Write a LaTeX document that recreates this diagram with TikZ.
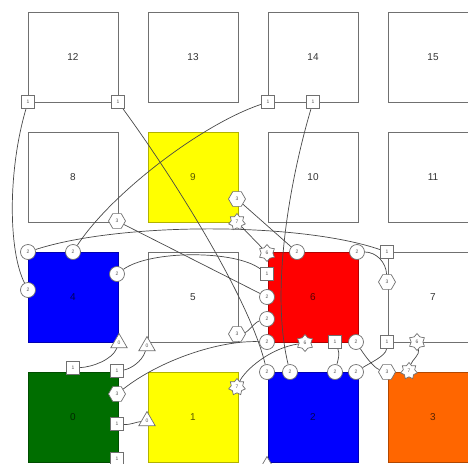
\documentclass[tikz,border=0pt]{standalone}
\usepackage{fontspec}
\setmainfont{Liberation Sans}
\usetikzlibrary{shapes.geometric}
\definecolor{bordergray}{HTML}{707070}
\definecolor{linegray}{HTML}{484848}
\definecolor{labgray}{HTML}{333333}
\definecolor{mtext}{HTML}{555555}
\definecolor{cyellow}{HTML}{FFFF00}
\definecolor{cblue}{HTML}{0000FF}
\definecolor{cred}{HTML}{FF0000}
\definecolor{cgreen}{HTML}{006E00}
\definecolor{corange}{HTML}{FF6600}
\pgfdeclarelayer{edges}
\pgfdeclarelayer{marks}
\pgfsetlayers{main,edges,marks}
\begin{document}
\begin{tikzpicture}[x=1pt,y=-1pt,
 box/.style={draw=bordergray, line width=0.9pt, minimum size=90pt, inner sep=0pt, font=\fontsize{10}{12}\selectfont, text=labgray, fill=white},
 cbox/.style={box, fill=#1, draw=#1!70!black, text=#1!35!black},
 mk/.style={draw=bordergray, fill=white, line width=0.7pt, inner sep=0pt, font=\fontsize{5}{5}\selectfont, text=mtext},
 psq/.style={mk, rectangle, minimum size=13.5pt},
 pci/.style={mk, circle, minimum size=15pt},
 phx/.style={mk, regular polygon, regular polygon sides=6, minimum size=17pt},
 ptr/.style={mk, regular polygon, regular polygon sides=3, minimum size=19pt},
 pst/.style={mk, star, star points=#1, star point ratio=1.45, minimum size=17pt},
 conn/.style={draw=linegray, line width=0.7pt},
]
\useasboundingbox (0,0) rectangle (468,463);
% boxes
\node[box] (b12) at (73,57) {12};
\node[box] (b13) at (193,57) {13};
\node[box] (b14) at (313,57) {14};
\node[box] (b15) at (433,57) {15};
\node[box] (b8) at (73,177) {8};
\node[cbox=cyellow] (b9) at (193,177) {9};
\node[box] (b10) at (313,177) {10};
\node[box] (b11) at (433,177) {11};
\node[cbox=cblue] (b4) at (73,297) {4};
\node[box] (b5) at (193,297) {5};
\node[cbox=cred] (b6) at (313,297) {6};
\node[box] (b7) at (433,297) {7};
\node[cbox=cgreen] (b0) at (73,417) {0};
\node[cbox=cyellow] (b1) at (193,417) {1};
\node[cbox=cblue] (b2) at (313,417) {2};
\node[cbox=corange] (b3) at (433,417) {3};
% markers
\begin{pgfonlayer}{marks}
\node[psq] (s1) at (28,102) {1};
\node[psq] (s2) at (118,102) {1};
\node[psq] (s3) at (268,102) {1};
\node[psq] (s4) at (313,102) {1};
\node[psq] (s5) at (267,274) {1};
\node[psq] (s6) at (387,252) {1};
\node[psq] (s7) at (335,342) {1};
\node[psq] (s8) at (387,342) {1};
\node[psq] (s9) at (73,368) {1};
\node[psq] (s10) at (117,371) {1};
\node[psq] (s11) at (117,424) {1};
\node[psq] (s12) at (117,459) {1};
\node[pci] (c1) at (28,252) {2};
\node[pci] (c2) at (73,252) {2};
\node[pci] (c3) at (117,274) {2};
\node[pci] (c4) at (28,290) {2};
\node[pci] (c5) at (297,252) {2};
\node[pci] (c6) at (357,252) {2};
\node[pci] (c7) at (267,297) {2};
\node[pci] (c8) at (267,319) {2};
\node[pci] (c9) at (267,342) {2};
\node[pci] (c10) at (356,342) {2};
\node[pci] (c11) at (267,372) {2};
\node[pci] (c12) at (290,372) {2};
\node[pci] (c13) at (335,372) {2};
\node[pci] (c14) at (356,372) {2};
\node[phx] (h1) at (117,221) {3};
\node[phx] (h2) at (237,199) {3};
\node[phx] (h3) at (237,334) {3};
\node[phx] (h4) at (387,282) {3};
\node[phx] (h5) at (117,394) {3};
\node[phx] (h6) at (387,372) {3};
\node[ptr] (t1) at (119,343) {0};
\node[ptr] (t2) at (147,346) {0};
\node[ptr] (t3) at (147,421) {0};
\node[ptr] (t4) at (267,466) {};
\node[pst=7] (st1) at (237,222) {7};
\node[pst=6] (st2) at (267,253) {6};
\node[pst=6] (st3) at (305,343) {6};
\node[pst=6] (st4) at (417,342) {6};
\node[pst=7] (st5) at (409,371) {7};
\node[pst=7] (st6) at (237,387) {7};
\end{pgfonlayer}
% connectors
\begin{pgfonlayer}{edges}
\draw[conn] (s1) .. controls (8,170) and (8,250) .. (c4);
\draw[conn] (s2) .. controls (175,180) and (250,300) .. (c11);
\draw[conn] (s3) .. controls (200,125) and (110,195) .. (c2);
\draw[conn] (s4) .. controls (290,180) and (270,290) .. (c12);
\draw[conn] (h1) -- (c7);
\draw[conn] (c8) .. controls (255,322) and (248,332) .. (h3);
\draw[conn] (c3) .. controls (150,250) and (235,250) .. (s5);
\draw[conn] (c9) .. controls (220,340) and (160,360) .. (h5);
\draw[conn] (st3) .. controls (270,348) and (245,370) .. (st6);
\draw[conn] (st1) -- (st2);
\draw[conn] (h2) -- (c5);
\draw[conn] (c1) .. controls (120,222) and (300,222) .. (s6);
\draw[conn] (c6) .. controls (376,252) and (386,262) .. (h4);
\draw[conn] (s7) .. controls (340,354) and (338,360) .. (c13);
\draw[conn] (c10) .. controls (365,356) and (374,368) .. (h6);
\draw[conn] (s8) .. controls (386,356) and (368,364) .. (c14);
\draw[conn] (st4) .. controls (420,355) and (412,360) .. (st5);
\draw[conn] (t1) .. controls (112,360) and (92,367) .. (s9);
\draw[conn] (t2) .. controls (142,362) and (130,369) .. (s10);
\draw[conn] (s11) .. controls (130,425) and (136,422) .. (t3);
\end{pgfonlayer}
\end{tikzpicture}
\end{document}
